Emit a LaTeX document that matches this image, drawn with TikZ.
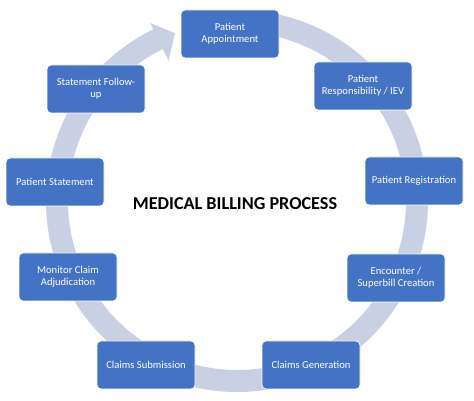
\documentclass[tikz,border=0pt]{standalone}
\usepackage{fontspec}
\setmainfont{Carlito}
\usepackage{xcolor}
\usetikzlibrary{positioning,calc}
\definecolor{boxblue}{RGB}{68,114,196}
\definecolor{ringgray}{RGB}{202,208,228}

\begin{document}
\begin{tikzpicture}[line cap=round,line join=round,x=1pt,y=1pt,
  stepbox/.style={draw=white,line width=0.8pt,fill=boxblue,rounded corners=4pt,
    minimum width=98pt,minimum height=48pt,text=white,align=center,
    font=\fontsize{10.6}{12}\selectfont,inner sep=2pt}]
\useasboundingbox (0,0) rectangle (474,401);
\coordinate (c) at (237,200);
% ring with arrow head
\fill[ringgray] ($(c)+(90:191)$) arc[start angle=90,end angle=-244,radius=191]
  -- ($(c)+(-244:198)$) -- ($(c)+(-249.7:179)$) -- ($(c)+(-244:156)$)
  -- ($(c)+(-244:169)$) arc[start angle=-244,end angle=90,radius=169] -- cycle;
\node[stepbox] (appt) at (230,367) {Patient\\Appointment};
\node[stepbox] (resp) at (363,315) {Patient\\Responsibility / IEV};
\node[stepbox] (reg) at (414,220) {Patient Registration};
\node[stepbox] (enc) at (396,123) {Encounter /\\Superbill Creation};
\node[stepbox] (gen) at (311,36) {Claims Generation};
\node[stepbox] (sub) at (146,36) {Claims Submission};
\node[stepbox] (mon) at (68,124) {Monitor Claim\\Adjudication};
\node[stepbox] (stmt) at (55,219) {Patient Statement};
\node[stepbox] (follow) at (96,312) {Statement Follow-\\up};
\node[font=\fontsize{18.2}{20}\selectfont\bfseries] (title) at (235,197) {MEDICAL BILLING PROCESS};
\end{tikzpicture}
\end{document}
